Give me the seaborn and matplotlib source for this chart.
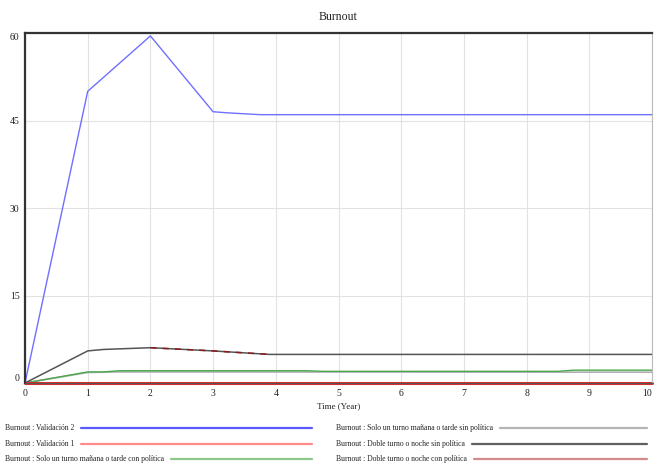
import pandas as pd
import matplotlib.pyplot as plt
from matplotlib.lines import Line2D
import seaborn as sns

# --- DATA ---
time_val2 = [0, 1, 2, 3, 3.25, 3.75, 10]
val2 = [0, 50.0, 59.5, 46.5, 46.3, 46.0, 46.0]

time_val1 = [0, 10]
val1 = [0, 0]

time_solo_con = [0, 1, 1.25, 1.5, 4.5, 4.75, 8.5, 8.75, 10]
solo_con = [0, 1.9, 1.9, 2.1, 2.1, 2.0, 2.0, 2.2, 2.2]

time_solo_sin = [0, 1, 1.5, 10]
solo_sin = [0, 1.8, 1.9, 1.85]

time_doble = [0, 1, 1.25, 2, 3, 3.9, 10]
doble_sin = [0, 5.5, 5.75, 6.05, 5.5, 4.9, 4.9]
doble_con = [0, 5.5, 5.75, 6.05, 5.5, 4.9, 4.9]

y_ticks = [0, 15, 30, 45, 60]
x_ticks = list(range(0, 11))

labels = ['Burnout : Validación 2',
          'Burnout : Validación 1',
          'Burnout : Solo un turno mañana o tarde con política',
          'Burnout : Solo un turno mañana o tarde sin política',
          'Burnout : Doble turno o noche sin política',
          'Burnout : Doble turno o noche con política']
legend_colors = ['#5a5aff', '#ff8a8a', '#8cc88c', '#b4b4b4', '#606060', '#d48a8a']

sns.set_theme(style="whitegrid")
plt.rcParams['font.family'] = ['Liberation Serif', 'DejaVu Serif']

fig = plt.figure(figsize=(6.54, 4.68), dpi=100)
ax = fig.add_axes([25 / 654, 1 - 383 / 468, 627 / 654, 350 / 468])
ax.set_facecolor('white')

# lines
sns.lineplot(x=time_solo_sin, y=solo_sin, color='#b0b0b0', linewidth=1.2, ax=ax)
sns.lineplot(x=time_solo_con, y=solo_con, color='#4aa84a', linewidth=1.0, ax=ax)
sns.lineplot(x=time_doble, y=doble_sin, color='#555555', linewidth=1.1, ax=ax)
# the "con política" run sits on top of the black one; only visible between 2 and 4
dc = pd.DataFrame({'t': time_doble, 'v': doble_con})
dc = dc[(dc['t'] >= 2) & (dc['t'] <= 3.9)]
sns.lineplot(data=dc, x='t', y='v', color='#8b1a1a', linewidth=1.1,
             linestyle=(0, (4, 4)), ax=ax)
sns.lineplot(x=time_val2, y=val2, color='#7070ff', linewidth=1.0, ax=ax)
sns.lineplot(x=time_val1, y=val1, color='#dd2b2b', linewidth=2.2, ax=ax, clip_on=False)

ax.set_xlim(0, 10)
ax.set_ylim(0, 60)
ax.set_xticks(x_ticks)
ax.set_yticks(y_ticks)
ax.set_xticklabels([str(t) for t in x_ticks])
ax.set_yticklabels([str(t) for t in y_ticks])
ax.tick_params(length=0, labelsize=7, colors='#222222', pad=4)
ax.grid(True, color='#e2e2e2', linewidth=0.8)
ytl = ax.get_yticklabels()
ytl[0].set_va('bottom')
ytl[-1].set_va('top')
ax.get_xticklabels()[-1].set_ha('right')
for sp in ['left', 'top']:
    ax.spines[sp].set_color('#333333')
    ax.spines[sp].set_linewidth(1.6)
ax.spines['right'].set_color('#bbbbbb')
ax.spines['right'].set_linewidth(0.8)
ax.spines['bottom'].set_color('#555555')
ax.spines['bottom'].set_linewidth(0.8)

ax.set_xlabel('Time (Year)', fontsize=6.5, labelpad=3, color='#222222')
ax.set_ylabel('')
ax.set_title('Burnout', fontsize=8.5, pad=9, color='#222222')

# --- legend, Vensim style: text first, then a line out to the column end ---
fig.canvas.draw()
renderer = fig.canvas.get_renderer()
rows_y = [428, 444, 459]
cols = [(5, 312), (336, 647)]
for i, (lab, col) in enumerate(zip(labels, legend_colors)):
    x0, x1 = cols[i // 3]
    yy = 1 - rows_y[i % 3] / 468
    t = fig.text(x0 / 654, yy, lab, fontsize=5.5, va='center', ha='left', color='#222222')
    bb = t.get_window_extent(renderer)
    fig.add_artist(Line2D([(bb.x1 + 7) / 654, x1 / 654], [yy, yy],
                          transform=fig.transFigure, color=col, linewidth=1.6))

fig.savefig('out.png', dpi=100)
